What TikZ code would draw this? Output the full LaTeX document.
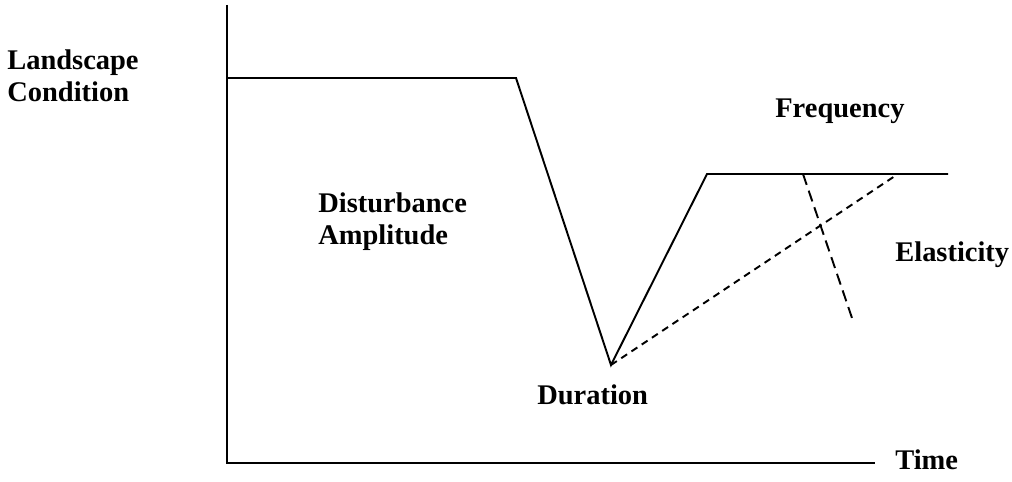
\documentclass[tikz,border=0pt]{standalone}
\usepackage{fontspec}
\setmainfont{Liberation Serif}
\usetikzlibrary{calc}

\tikzset{
  axisline/.style={line width=1.1pt},
  curveline/.style={line width=1.1pt, line join=miter},
  shortdash/.style={line width=1.1pt, dash pattern=on 4pt off 3pt},
  longdash/.style={line width=1.1pt, dash pattern=on 6.5pt off 3.5pt},
  lbl/.style={inner sep=0pt, font=\fontsize{16.2}{18.7}\selectfont\bfseries, align=left}
}

\begin{document}
\begin{tikzpicture}[x=0.02cm, y=-0.02cm]
  \useasboundingbox (0,0) rectangle (1012,482);
  % axes
  \coordinate (ytop) at (227,5);
  \coordinate (origin) at (227,463);
  \coordinate (xend) at (875,463);
  \draw[axisline] (ytop) -- (origin) -- (xend);
  % landscape condition over time
  \coordinate (start) at (227,78);
  \coordinate (drop) at (516,78);
  \coordinate (bottom) at (611,365);
  \coordinate (peak) at (707,174);
  \coordinate (rend) at (948,174);
  \coordinate (slow) at (898,174);
  \coordinate (cuttop) at (803,174);
  \coordinate (cutend) at (852,318);
  \draw[curveline] (start) -- (drop) -- (bottom) -- (peak) -- (rend);
  \draw[shortdash] (bottom) -- (slow);
  \draw[longdash] (cuttop) -- (cutend);
  % labels (base = last line)
  \node[lbl, anchor=base west] (landscape) at (7,102) {Landscape\\Condition};
  \node[lbl, anchor=base west] (amplitude) at (318,245) {Disturbance\\Amplitude};
  \node[lbl, anchor=base west] (frequency) at (775,118) {Frequency};
  \node[lbl, anchor=base west] (elasticity) at (895,262) {Elasticity};
  \node[lbl, anchor=base west] (duration) at (537,405) {Duration};
  \node[lbl, anchor=base west] (time) at (895,470) {Time};
\end{tikzpicture}
\end{document}
